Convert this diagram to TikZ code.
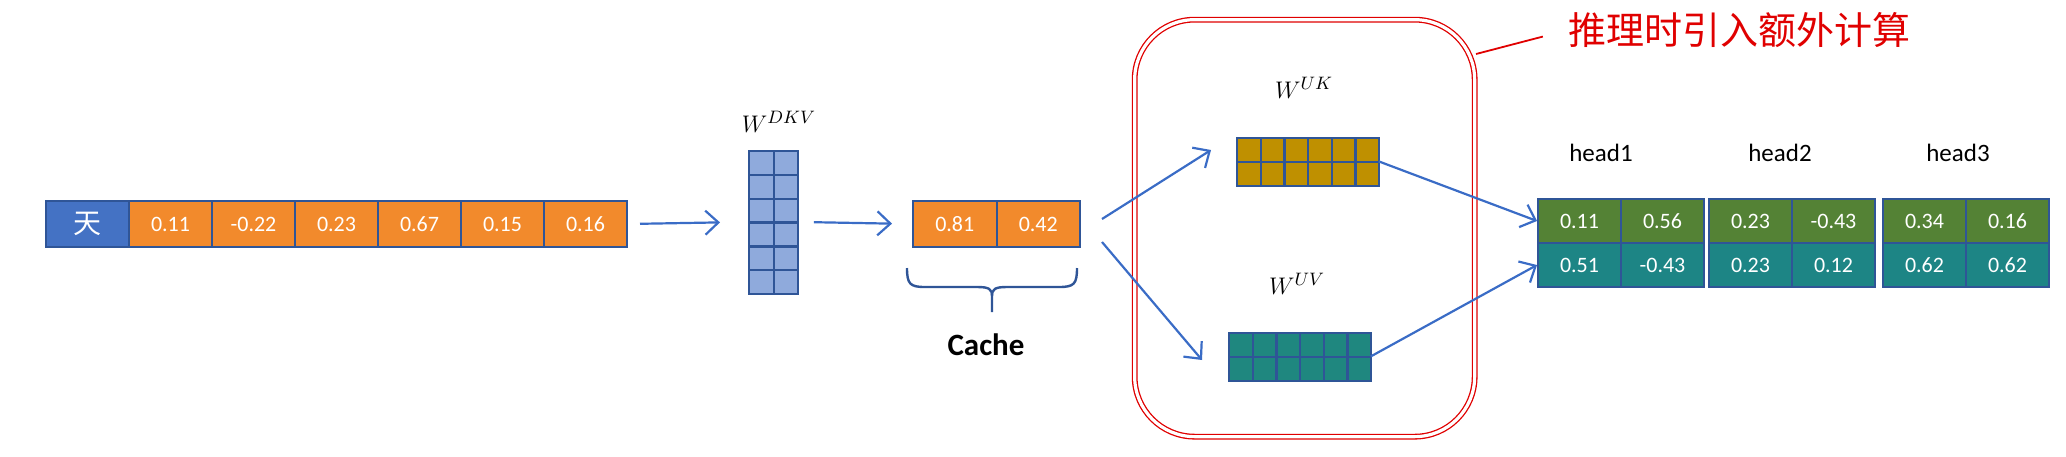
\documentclass[tikz,border=0pt]{standalone}
\usepackage{fontspec}
\setmainfont{Carlito}
\newfontfamily\cjk{Noto Sans CJK SC}
\usetikzlibrary{arrows.meta}
\definecolor{bord}{HTML}{2F5597}
\definecolor{blu}{HTML}{4472C4}
\definecolor{org}{HTML}{F28A2C}
\definecolor{lblue}{HTML}{8FAADC}
\definecolor{goldc}{HTML}{BF9000}
\definecolor{tealc}{HTML}{1F877F}
\definecolor{tealh}{HTML}{1D8585}
\definecolor{grn}{HTML}{548235}
\definecolor{arr}{HTML}{3A6CC6}
\definecolor{redc}{HTML}{E00000}
\begin{document}
\begin{tikzpicture}[x=0.5pt,y=-0.5pt,
  cell/.style={draw=bord, line width=1pt, inner sep=0pt, anchor=north west, text=white,
    font=\fontsize{11}{13}\selectfont, minimum width=41.5pt, minimum height=23pt},
  mcell/.style={draw=bord, line width=1.1pt, inner sep=0pt, anchor=north west},
  hcell/.style={cell, minimum height=22pt},
  conn/.style={draw=arr, line width=1.1pt, line join=round,
    -{Straight Barb[length=6.5pt,width=12pt,line width=1.1pt]}},
  wlab/.style={font=\fontsize{13}{15}\selectfont},
  hlab/.style={font=\fontsize{12.5}{15}\selectfont}]
\useasboundingbox (0,0) rectangle (2066,456);

% red rounded double box
\node[draw=redc, double=white, double distance=1.6pt, line width=0.65pt, rounded corners=30pt,
  minimum width=170pt, minimum height=208.5pt, inner sep=0pt, anchor=north west] (box) at (1134,19) {};
\node[text=redc, font=\cjk\fontsize{19}{22}\selectfont, anchor=west, inner sep=0pt] (note) at (1568,30) {推理时引入额外计算};
\coordinate (cs) at (1476,54);
\draw[redc, line width=0.9pt, shorten >=13pt] (cs) -- (note.west);

% input row
\node[cell, fill=blu, font=\cjk\fontsize{14}{16}\selectfont] (t0) at (45,200) {天};
\foreach \v [count=\i] in {0.11,-0.22,0.23,0.67,0.15,0.16}
  \node[cell, fill=org] (t\i) at ({45+83*\i},200) {\v};

% W^DKV
\node[wlab] (ldkv) at (779,122) {$W^{DKV}$};
\foreach \r in {0,...,5}
  \foreach \c in {0,1}
    \node[mcell, fill=lblue, minimum width=12.25pt, minimum height=11.9pt] (d\r\c) at ({748+24.5*\c},{150+23.83*\r}) {};
\node[inner sep=0pt, minimum width=24.5pt, minimum height=71.5pt, anchor=north west] (dkv) at (748,150) {};
\draw[conn, shorten <=6pt, shorten >=14pt] (t6.east) -- (dkv.west);

% cache
\node[cell, fill=org, minimum width=41.75pt] (c1) at (912,200) {0.81};
\node[cell, fill=org, minimum width=41.75pt] (c2) at (995.5,200) {0.42};
\draw[conn, shorten <=8pt, shorten >=10pt] (dkv.east) -- (c1.west);
\draw[bord, line width=1.2pt]
  (907,268) .. controls (907,284) and (910,287) .. (925,287) -- (977,287)
  .. controls (989,287) and (992,289) .. (992,296) -- (992,312);
\draw[bord, line width=1.2pt]
  (1077,268) .. controls (1077,284) and (1074,287) .. (1059,287) -- (1007,287)
  .. controls (995,287) and (992,289) .. (992,296);
\node[font=\bfseries\fontsize{15.5}{18}\selectfont] (cache) at (986,345) {Cache};

% W^UK
\node[wlab] (luk) at (1304,88) {$W^{UK}$};
\foreach \r in {0,1}
  \foreach \c in {0,...,5}
    \node[mcell, fill=goldc, minimum width=11.83pt, minimum height=12pt] (k\r\c) at ({1236+23.67*\c},{137+24*\r}) {};
\node[inner sep=0pt, minimum width=71pt, minimum height=24pt, anchor=north west] (wuk) at (1236,137) {};

% W^UV
\node[wlab] (luv) at (1297,284) {$W^{UV}$};
\foreach \r in {0,1}
  \foreach \c in {0,...,5}
    \node[mcell, fill=tealc, minimum width=11.83pt, minimum height=12pt] (v\r\c) at ({1228+23.67*\c},{332+24*\r}) {};
\node[inner sep=0pt, minimum width=71pt, minimum height=24pt, anchor=north west] (wuv) at (1228,332) {};

\coordinate (us) at (1102,219);
\coordinate (ue) at (1211,150);
\coordinate (ls) at (1102,242);
\coordinate (le) at (1202,360);
\draw[conn] (us) -- (ue);
\draw[conn] (ls) -- (le);

% heads
\node[hlab] (hl1) at (1601,153) {head1};
\node[hlab] (hl2) at (1780,153) {head2};
\node[hlab] (hl3) at (1958,153) {head3};
\foreach \x/\k/\a/\b/\cc/\d in {1537/1/0.11/0.56/0.51/-0.43, 1708/2/0.23/-0.43/0.23/0.12, 1882/3/0.34/0.16/0.62/0.62}{
  \node[hcell, fill=grn] (h\k a) at (\x,198) {\a};
  \node[hcell, fill=grn] (h\k b) at (\x+83,198) {\b};
  \node[hcell, fill=tealh] (h\k c) at (\x,242) {\cc};
  \node[hcell, fill=tealh] (h\k d) at (\x+83,242) {\d};
}
\draw[conn] (wuk.east) -- (h1a.west);
\draw[conn] (wuv.east) -- (h1c.west);
\end{tikzpicture}
\end{document}
